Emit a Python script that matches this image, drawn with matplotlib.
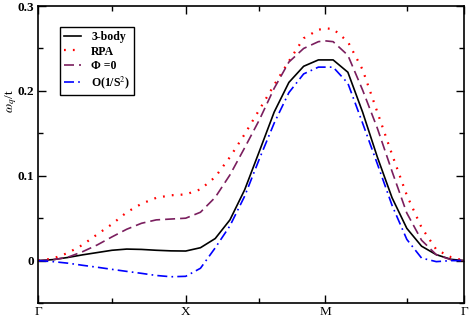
import matplotlib
matplotlib.use("Agg")
import matplotlib.pyplot as plt
from matplotlib.ticker import FixedLocator, MultipleLocator

# path coordinate along Γ - X - M - Γ
q = [0, 0.1, 0.2, 0.3, 0.4, 0.5, 0.6, 0.7, 0.8, 0.9, 1.0,
     1.1, 1.2, 1.3, 1.4, 1.5, 1.6, 1.7, 1.8, 1.9, 1.945,
     2.0, 2.1, 2.2, 2.3, 2.4, 2.5, 2.6, 2.7, 2.8, 2.89]

three_body = [0, 0.0012, 0.0037, 0.0068, 0.0095, 0.0122, 0.0136, 0.0132, 0.0122, 0.0115, 0.0113,
              0.0152, 0.026, 0.048, 0.0835, 0.129, 0.175, 0.210, 0.229, 0.2365, 0.2365,
              0.2365, 0.222, 0.175, 0.122, 0.074, 0.038, 0.017, 0.007, 0.0015, 0]
rpa = [0, 0.0025, 0.009, 0.0185, 0.031, 0.043, 0.057, 0.067, 0.074, 0.077, 0.078,
       0.084, 0.0985, 0.122, 0.149, 0.178, 0.207, 0.235, 0.262, 0.272, 0.2737,
       0.273, 0.258, 0.225, 0.175, 0.125, 0.077, 0.039, 0.013, 0.004, 0]
phi0 = [0, 0.001, 0.004, 0.0105, 0.0185, 0.028, 0.037, 0.044, 0.048, 0.049, 0.050,
        0.057, 0.0745, 0.101, 0.133, 0.166, 0.203, 0.234, 0.250, 0.258, 0.259,
        0.258, 0.242, 0.201, 0.156, 0.105, 0.056, 0.024, 0.007, 0.001, 0]
spin_wave = [0, -0.0012, -0.003, -0.0055, -0.0078, -0.0103, -0.0127, -0.015, -0.0175, -0.019, -0.0185,
             -0.009, 0.015, 0.041, 0.076, 0.120, 0.162, 0.198, 0.220, 0.228, 0.228,
             0.228, 0.209, 0.162, 0.114, 0.065, 0.025, 0.003, -0.0012, 0, 0]

sym_pos = [0, 1.0, 1.945, 2.89]
sym_labels = ["Γ", "X", "M", "Γ"]
minor_x = [0.5, 1.5, 2.5]

plt.rcParams['font.family'] = ['Liberation Serif', 'DejaVu Serif']
plt.rcParams['mathtext.fontset'] = 'stix'

fig = plt.figure(figsize=(4.69, 3.17), dpi=100)
ax = fig.add_axes([0.0817, 0.044, 0.9083, 0.937])

ax.plot(q, three_body, color='black', lw=1.2, label='3-body')
ax.plot(q, rpa, color='red', lw=1.6, linestyle=(0, (0.8, 3.2)), label='RPA')
ax.plot(q, phi0, color='#7a1e5e', lw=1.2, linestyle=(0, (6, 3)), label='Φ =0')
ax.plot(q, spin_wave, color='#0000ff', lw=1.2, linestyle=(0, (6, 2.5, 1, 2.5)),
        label='O(1/S$^2$)')

ax.set_xlim(0, 2.89)
ax.set_ylim(-0.05, 0.3)
ax.xaxis.set_major_locator(FixedLocator(sym_pos))
ax.xaxis.set_minor_locator(FixedLocator(minor_x))
ax.set_xticklabels(sym_labels)
ax.set_yticks([0, 0.1, 0.2, 0.3])
ax.set_yticklabels(['0', '0.1', '0.2', '0.3'], fontweight='bold')
ax.yaxis.set_minor_locator(MultipleLocator(0.05))

ax.tick_params(which='both', direction='in', top=True, right=True, labelsize=9.5, pad=3)
ax.tick_params(axis='x', pad=2)
ax.tick_params(which='major', length=6, width=1)
ax.tick_params(which='minor', length=3.5, width=1)
for s in ax.spines.values():
    s.set_linewidth(1.2)

ax.set_ylabel(r'$\omega_q$/t', fontsize=9.5)
ax.yaxis.set_label_coords(-0.045, 0.68)

leg = ax.legend(loc='upper left', bbox_to_anchor=(0.051, 0.929), borderaxespad=0,
                fancybox=False, edgecolor='black', framealpha=1, handlelength=1.4,
                prop={'weight': 'bold', 'size': 8.5}, labelspacing=0.2,
                borderpad=0.35, handletextpad=0.9)
leg.get_frame().set_linewidth(1.0)

fig.savefig('out.png', dpi=100)
